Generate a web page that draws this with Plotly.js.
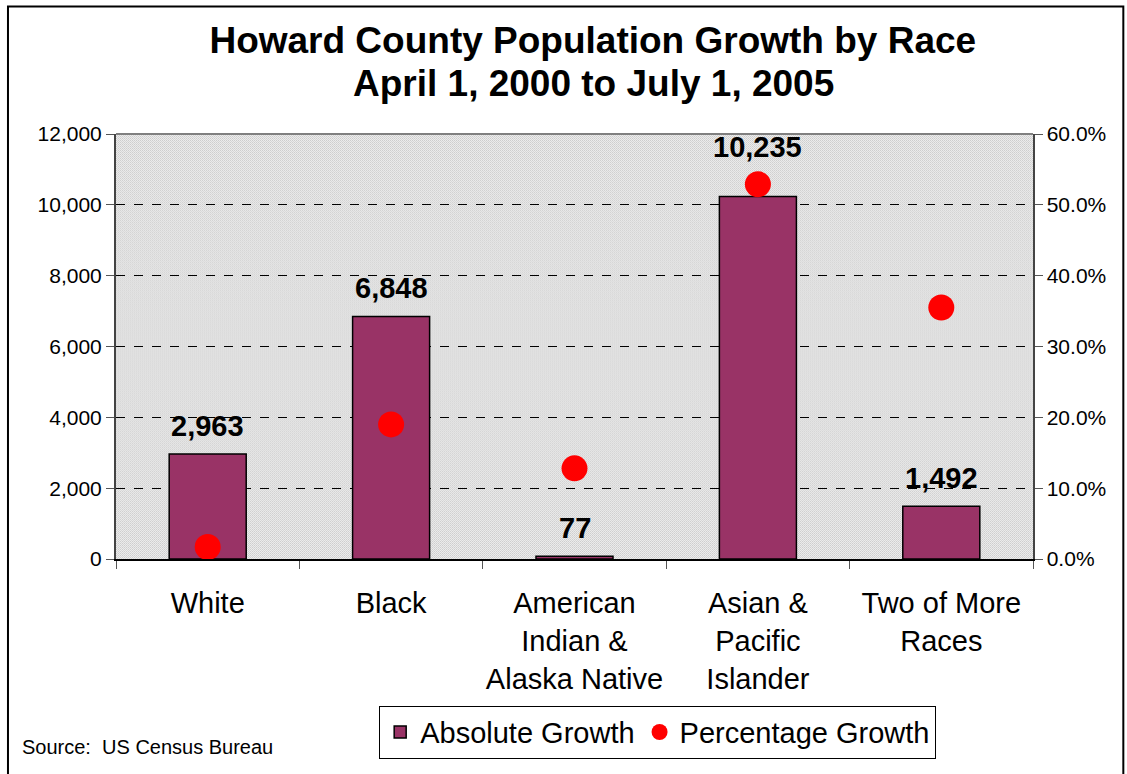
<!DOCTYPE html>
<html>
<head>
<meta charset="utf-8">
<script src="https://cdn.plot.ly/plotly-3.0.1.min.js"></script>
<style>html,body{margin:0;padding:0;background:#fff;}#chart{width:1127px;height:774px;}</style>
</head>
<body>
<div id="chart"></div>
<script>
const categories = ["White", "Black", "American<br>Indian &<br>Alaska Native", "Asian &<br>Pacific<br>Islander", "Two of More<br>Races"];
const absoluteGrowth = [2963, 6848, 77, 10235, 1492];
const percentageGrowth = [1.7, 19.0, 12.8, 52.9, 35.5];
const leftTicks = [0, 2000, 4000, 6000, 8000, 10000, 12000];
const rightTicks = [0, 10, 20, 30, 40, 50, 60];
const rightTickLabels = ["0.0%", "10.0%", "20.0%", "30.0%", "40.0%", "50.0%", "60.0%"];
const titleLine1 = "Howard County Population Growth by Race";
const titleLine2 = "April 1, 2000 to July 1, 2005";

const FONT = '"Liberation Sans", Arial, sans-serif';

// textured plot background (Excel-like 25% gray pattern)
const W = 917, H = 426;
const svgPattern = '<svg xmlns="http://www.w3.org/2000/svg" width="' + W + '" height="' + H + '">' +
  '<defs><pattern id="p" width="2" height="2" patternUnits="userSpaceOnUse">' +
  '<rect width="2" height="2" fill="#ececec"/><rect x="0" y="0" width="1" height="1" fill="#cdcdcd"/>' +
  '<rect x="1" y="1" width="1" height="1" fill="#d6d6d6"/></pattern></defs>' +
  '<rect width="' + W + '" height="' + H + '" fill="url(#p)"/></svg>';
const bgImage = 'data:image/svg+xml;base64,' + btoa(svgPattern);

const traces = [
  {
    type: 'bar',
    name: 'Absolute Growth',
    x: categories,
    y: absoluteGrowth,
    width: 0.42,
    marker: {color: '#993366', line: {color: '#000', width: 1.5}},
    hoverinfo: 'none'
  },
  {
    type: 'scatter',
    mode: 'markers',
    name: 'Percentage Growth',
    x: categories,
    y: percentageGrowth,
    yaxis: 'y2',
    marker: {color: '#ff0000', size: 26},
    cliponaxis: false,
    hoverinfo: 'none'
  }
];

// value labels above bars (label for Asian bar lifted above its marker)
const extraLift = {3: 22};
const labelAnnotations = absoluteGrowth.map((v, i) => ({
  x: categories[i], y: v, xref: 'x', yref: 'y',
  text: '<b>' + v.toLocaleString('en-US') + '</b>',
  showarrow: false, yanchor: 'bottom',
  yshift: 10 + (extraLift[i] || 0),
  font: {family: FONT, size: 29, color: '#000'}
}));

const layout = {
  width: 1127,
  height: 774,
  margin: {l: 116, r: 94, t: 134, b: 215},
  paper_bgcolor: '#fff',
  plot_bgcolor: '#e0e0e0',
  font: {family: FONT, color: '#000'},
  title: {
    text: '<b>' + titleLine1 + '</b>',
    font: {family: FONT, size: 37, color: '#000'},
    x: 0.526, xanchor: 'center', y: 1 - 40 / 774, yanchor: 'middle'
  },
  showlegend: true,
  legend: {
    orientation: 'h',
    x: 0.287, xanchor: 'left',
    y: -0.345, yanchor: 'top',
    font: {family: FONT, size: 29, color: '#000'},
    bgcolor: '#fff',
    bordercolor: '#000',
    borderwidth: 1,
    itemwidth: 30,
    traceorder: 'normal'
  },
  xaxis: {
    type: 'category',
    showline: true, linecolor: '#000', linewidth: 1.5,
    ticks: 'outside', tickson: 'boundaries', ticklen: 8, tickcolor: '#555',
    tickfont: {family: FONT, size: 29, color: '#000'},
    tickangle: 0,
    ticklabelstandoff: 18,
    showgrid: false,
    zeroline: false
  },
  yaxis: {
    range: [0, 12000],
    tickvals: leftTicks,
    tickformat: ',',
    showline: true, linecolor: '#444', linewidth: 2,
    ticks: 'outside', ticklen: 8, tickcolor: '#555',
    tickfont: {family: FONT, size: 21, color: '#000'},
    showgrid: true, gridcolor: '#000', griddash: 'dash', gridwidth: 1,
    zeroline: false
  },
  yaxis2: {
    overlaying: 'y',
    side: 'right',
    range: [0, 60],
    tickvals: rightTicks,
    ticktext: rightTickLabels,
    showline: true, linecolor: '#444', linewidth: 1.5,
    ticks: 'outside', ticklen: 8, tickcolor: '#555',
    tickfont: {family: FONT, size: 21, color: '#000'},
    showgrid: false,
    zeroline: false
  },
  images: [
    {source: bgImage, xref: 'paper', yref: 'paper', x: 0, y: 1, sizex: 1, sizey: 1,
     xanchor: 'left', yanchor: 'top', sizing: 'stretch', layer: 'below'}
  ],
  shapes: [
    {type: 'line', xref: 'paper', yref: 'paper', x0: 0, x1: 1, y0: 1, y1: 1, line: {color: '#808080', width: 2}},
    {type: 'rect', xref: 'paper', yref: 'paper', x0: -0.1178, x1: 1.0985, y0: -0.55, y1: 1.3, line: {color: '#000', width: 2}}
  ],
  annotations: labelAnnotations.concat([
    {
      text: '<b>' + titleLine2 + '</b>',
      xref: 'paper', yref: 'paper',
      x: (593 - 116) / 917, xanchor: 'center',
      y: (559 - 82) / 426, yanchor: 'middle',
      showarrow: false,
      font: {family: FONT, size: 37, color: '#000'}
    },
    {
      text: 'Source:  US Census Bureau',
      xref: 'paper', yref: 'paper',
      x: -0.1047, xanchor: 'left',
      y: -0.442, yanchor: 'middle',
      showarrow: false,
      font: {family: FONT, size: 20, color: '#000'}
    }
  ])
};

Plotly.newPlot('chart', traces, layout, {displayModeBar: false, staticPlot: true});
</script>
</body>
</html>
